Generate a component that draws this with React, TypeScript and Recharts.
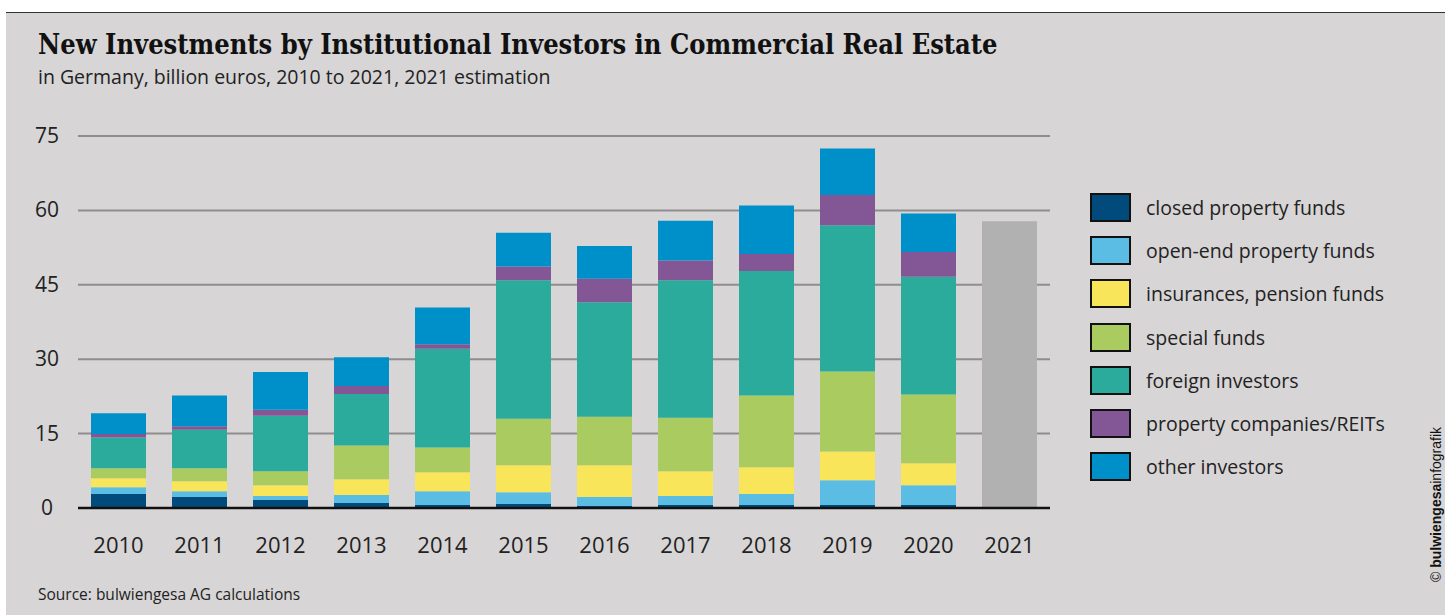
import React from "react";
import { BarChart, Bar, XAxis, YAxis, CartesianGrid, Legend, ReferenceLine } from "recharts";

const years = ["2010", "2011", "2012", "2013", "2014", "2015", "2016", "2017", "2018", "2019", "2020", "2021"];
const closedFunds = [2.8, 2.2, 1.6, 1.0, 0.6, 0.8, 0.4, 0.6, 0.6, 0.6, 0.6, null];
const openFunds = [1.4, 1.2, 0.8, 1.6, 2.8, 2.4, 1.8, 1.8, 2.2, 5.0, 4.0, null];
const insurances = [1.8, 2.0, 2.2, 3.2, 3.8, 5.4, 6.4, 5.0, 5.4, 5.8, 4.4, null];
const specialFunds = [2.0, 2.6, 2.8, 6.8, 5.0, 9.4, 9.8, 10.8, 14.5, 16.1, 13.9, null];
const foreign = [6.2, 7.8, 11.2, 10.4, 19.9, 27.9, 23.1, 27.7, 25.1, 29.5, 23.7, null];
const propertyCos = [0.7, 0.7, 1.2, 1.6, 0.9, 2.8, 4.7, 4.0, 3.4, 6.1, 5.0, null];
const others = [4.2, 6.2, 7.6, 5.8, 7.4, 6.8, 6.6, 8.0, 9.8, 9.4, 7.8, null];
const estimate = [null, null, null, null, null, null, null, null, null, null, null, 57.8];
const yTicks = [0, 15, 30, 45, 60, 75];

const series = [
  { key: "closed", name: "closed property funds", color: "#004a7c", values: closedFunds },
  { key: "open", name: "open-end property funds", color: "#5bbde3", values: openFunds },
  { key: "insurance", name: "insurances, pension funds", color: "#f8e55a", values: insurances },
  { key: "special", name: "special funds", color: "#aacb5f", values: specialFunds },
  { key: "foreign", name: "foreign investors", color: "#2aab9b", values: foreign },
  { key: "property", name: "property companies/REITs", color: "#835695", values: propertyCos },
  { key: "other", name: "other investors", color: "#0090c9", values: others },
];

const data = years.map((year, i) => {
  const row: any = { year, estimate: estimate[i] };
  series.forEach((s) => (row[s.key] = s.values[i]));
  return row;
});

const font = "'Open Sans', sans-serif";

const LegendBox = () => (
  <div style={{ fontFamily: font }}>
    {series.map((s) => (
      <div key={s.key} style={{ display: "flex", alignItems: "center", height: 43.2 }}>
        <div
          style={{
            width: 37,
            height: 25,
            background: s.color,
            border: "2px solid #111",
            marginRight: 15,
          }}
        />
        <span style={{ fontSize: 19.5, color: "#222" }}>{s.name}</span>
      </div>
    ))}
  </div>
);

const YTick = (props: any) => (
  <text x={47} y={props.y} dy={7} textAnchor="middle" fontSize={21} fill="#222" fontFamily={font}>
    {props.payload.value}
  </text>
);

const XTick = (props: any) => (
  <text x={props.x} y={props.y} dy={37} textAnchor="middle" fontSize={22} fill="#222" fontFamily={font}>
    {props.payload.value}
  </text>
);

export default function App() {
  return (
    <div style={{ position: "absolute", left: 0, top: 0, width: 1450, height: 615, background: "#fff" }}>
      <div
        style={{
          position: "absolute",
          left: 6,
          top: 12,
          width: 1439,
          height: 603,
          background: "#d7d5d6",
          borderTop: "1.5px solid #333",
        }}
      />
      <div
        style={{
          position: "absolute",
          left: 38,
          top: 31,
          fontFamily: "'DejaVu Serif Condensed', 'DejaVu Serif', serif",
          fontWeight: "bold",
          fontSize: 27,
          lineHeight: "27px",
          color: "#111",
          whiteSpace: "nowrap",
        }}
      >
        New Investments by Institutional Investors in Commercial Real Estate
      </div>
      <div style={{ position: "absolute", left: 38, top: 63, fontFamily: font, fontSize: 19.5, color: "#222" }}>
        in Germany, billion euros, 2010 to 2021, 2021 estimation
      </div>
      <div style={{ position: "absolute", left: 0, top: 0 }}>
        <BarChart
          width={1450}
          height={570}
          data={data}
          margin={{ top: 136, right: 400, left: 18, bottom: 22 }}
          barSize={55}
        >
          <CartesianGrid horizontal vertical={false} stroke="#8f8d8e" strokeWidth={2} />
          <XAxis dataKey="year" axisLine={false} tickLine={false} tick={<XTick />} height={40} interval={0} />
          <YAxis
            domain={[0, 75]}
            ticks={yTicks}
            axisLine={false}
            tickLine={false}
            tick={<YTick />}
            width={60}
          />
          {series.map((s) => (
            <Bar key={s.key} dataKey={s.key} name={s.name} stackId="a" fill={s.color} isAnimationActive={false} />
          ))}
          <Bar dataKey="estimate" stackId="a" fill="#b0b1b0" isAnimationActive={false} legendType="none" />
          <ReferenceLine y={0} stroke="#111" strokeWidth={2.5} />
          <Legend
            content={<LegendBox />}
            layout="vertical"
            align="center"
            verticalAlign="middle"
            wrapperStyle={{ position: "absolute", left: 1090, top: 186, width: 320 }}
          />
        </BarChart>
      </div>
      <div style={{ position: "absolute", left: 38, top: 583, fontFamily: font, fontSize: 15.5, color: "#222" }}>
        Source: bulwiengesa AG calculations
      </div>
      <div
        style={{
          position: "absolute",
          left: 1428,
          top: 582,
          transform: "rotate(-90deg)",
          transformOrigin: "0 0",
          fontFamily: "Arial, 'Liberation Sans', sans-serif",
          fontSize: 14,
          color: "#111",
          whiteSpace: "nowrap",
        }}
      >
        © <b>bulwiengesa</b>infografik
      </div>
    </div>
  );
}
